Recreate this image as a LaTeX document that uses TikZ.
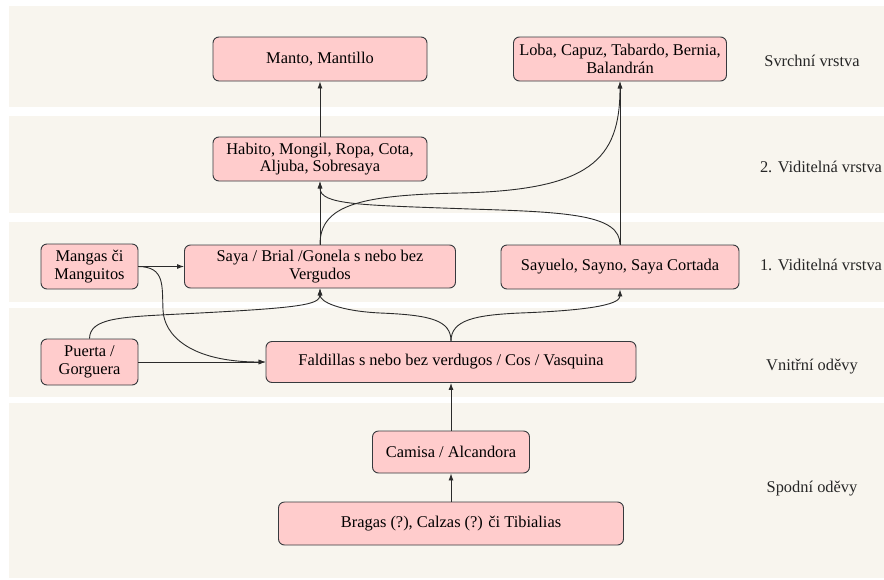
\documentclass[tikz,border=0pt]{standalone}
\usepackage{fontspec}
\setmainfont{Liberation Serif}
\usetikzlibrary{arrows.meta}
\definecolor{bandfill}{HTML}{F8F5EE}
\definecolor{boxfill}{HTML}{FFCCCC}
\definecolor{boxdraw}{HTML}{36393D}
\definecolor{edgecol}{HTML}{2B2B2B}
\begin{document}
\begin{tikzpicture}[x=1pt,y=-1pt,
  band/.style={fill=bandfill, draw=none},
  garment/.style={draw=boxdraw, fill=boxfill, rounded corners=6pt, line width=0.9pt,
    align=center, inner sep=0pt, font=\fontsize{16.4}{17.5}\selectfont},
  layerlabel/.style={font=\fontsize{16.4}{17.5}\selectfont, text=black!85},
  conn/.style={draw=edgecol, line width=0.9pt, -{Latex[length=7pt,width=5pt]}}]
\useasboundingbox (0,0) rectangle (884,579);
\fill[white] (0,0) rectangle (884,579);
% layer bands
\fill[band] (9,6) rectangle (884,107);
\fill[band] (9,116) rectangle (884,213);
\fill[band] (9,222) rectangle (884,302);
\fill[band] (9,308) rectangle (884,397);
\fill[band] (9,403) rectangle (884,578);
% layer labels
\node[layerlabel] (l1) at (812,61) {Svrchní vrstva};
\node[layerlabel] (l2) at (821,167) {2. Viditelná vrstva};
\node[layerlabel] (l3) at (821,265) {1. Viditelná vrstva};
\node[layerlabel] (l4) at (812,367) {Vnitřní oděvy};
\node[layerlabel] (l5) at (812,489) {Spodní oděvy};
% garments
\node[garment, minimum width=214pt, minimum height=44pt] (manto) at (320,59) {Manto, Mantillo};
\node[garment, minimum width=213pt, minimum height=44pt] (loba) at (620,59) {Loba, Capuz, Tabardo, Bernia,\\Balandrán};
\node[garment, minimum width=214pt, minimum height=44pt] (habito) at (320,159) {Habito, Mongil, Ropa, Cota,\\Aljuba, Sobresaya};
\node[garment, minimum width=97pt, minimum height=45pt] (mangas) at (89.5,266.5) {Mangas či\\Manguitos};
\node[garment, minimum width=271pt, minimum height=43pt] (saya) at (320,266.5) {Saya / Brial /Gonela s nebo bez\\Vergudos};
\node[garment, minimum width=238pt, minimum height=44pt] (sayuelo) at (620,267) {Sayuelo, Sayno, Saya Cortada};
\node[garment, minimum width=97pt, minimum height=46pt] (puerta) at (89.5,362) {Puerta /\\Gorguera};
\node[garment, minimum width=370pt, minimum height=41pt] (faldillas) at (451,362) {Faldillas s nebo bez verdugos / Cos / Vasquina};
\node[garment, minimum width=157pt, minimum height=42pt] (camisa) at (451,452) {Camisa / Alcandora};
\node[garment, minimum width=345pt, minimum height=43pt] (bragas) at (451,523.5) {Bragas (?), Calzas (?) či Tibialias};
% connectors
\draw[conn] (habito.north) -- (manto.south);
\draw[conn] (saya.north) -- (habito.south);
\draw[conn] (sayuelo.north) -- (loba.south);
\draw[conn] (saya.north) .. controls (320,205) and (360,195) .. (460,193)
  .. controls (590,190) and (620,160) .. (loba.south);
\draw[conn] (sayuelo.north) .. controls (620,215) and (570,212) .. (470,209)
  .. controls (360,205) and (320,205) .. (habito.south);
\draw[conn] (mangas.east) -- (saya.west);
\draw[conn] (mangas.east) .. controls (165,267) and (162,285) .. (163,310)
  .. controls (164,335) and (190,362) .. (faldillas.west);
\draw[conn] (puerta.east) -- (faldillas.west);
\draw[conn] (puerta.north) .. controls (90,318) and (120,317) .. (180,314)
  .. controls (300,308) and (320,305) .. (saya.south);
\draw[conn] (faldillas.north) .. controls (451,320) and (430,315) .. (380,313)
  .. controls (340,311) and (320,302) .. (saya.south);
\draw[conn] (faldillas.north) .. controls (451,320) and (475,315) .. (520,313)
  .. controls (600,310) and (620,303) .. (sayuelo.south);
\draw[conn] (camisa.north) -- (faldillas.south);
\draw[conn] (bragas.north) -- (camisa.south);
\end{tikzpicture}
\end{document}
